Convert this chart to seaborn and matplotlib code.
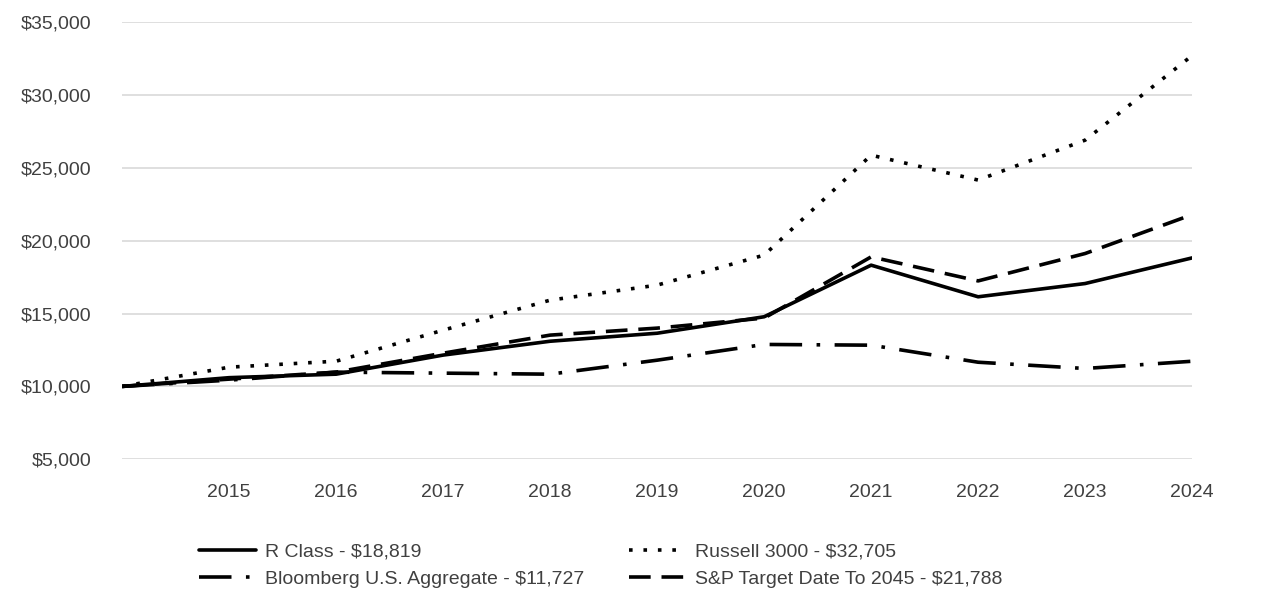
import pandas as pd
import matplotlib
matplotlib.use('Agg')
import matplotlib.pyplot as plt
import seaborn as sns

# values
years = [2014, 2015, 2016, 2017, 2018, 2019, 2020, 2021, 2022, 2023, 2024]
r_class = [10000, 10600, 10840, 12150, 13100, 13650, 14780, 18320, 16150, 17060, 18819]
russell = [10000, 11320, 11730, 13860, 15920, 16950, 19010, 25870, 24160, 26900, 32705]
bloomberg = [10000, 10430, 10980, 10910, 10840, 11800, 12880, 12830, 11660, 11230, 11727]
sp_target = [10000, 10500, 10980, 12280, 13520, 14000, 14690, 18890, 17240, 19120, 21788]

names = ['R Class - $18,819', 'Bloomberg U.S. Aggregate - $11,727',
         'Russell 3000 - $32,705', 'S&P Target Date To 2045 - $21,788']
series = [r_class, bloomberg, russell, sp_target]
dashes = [(None, None), (9, 4, 1, 4), (1, 3), (6, 3)]

df = pd.concat([pd.DataFrame({'year': years, 'value': v, 'series': n})
                for n, v in zip(names, series)])

sns.set_style('white')
plt.rcParams['font.family'] = ['Liberation Sans Narrow', 'Liberation Sans', 'DejaVu Sans']

fig, ax = plt.subplots(figsize=(12.86, 6.14), dpi=100)
fig.subplots_adjust(left=0.095, right=0.927, top=0.964, bottom=0.252)

for n, v, d in zip(names, series, dashes):
    sub = df[df['series'] == n]
    sns.lineplot(data=sub, x='year', y='value', ax=ax, color='black',
                 linewidth=2.6, label=n)
    l = ax.lines[-1]
    if d[0] is not None:
        l.set_dashes(d)
        l.set_dash_capstyle('butt')

ax.set_xlim(2014, 2024)
ax.set_ylim(5000, 35000)
ax.set_xticks(years[1:])
ax.set_yticks(range(5000, 35001, 5000))
ax.yaxis.set_major_formatter(matplotlib.ticker.StrMethodFormatter('${x:,.0f}'))
ax.grid(axis='y', color='#d9d9d9', linewidth=1.2)
ax.set_axisbelow(True)
for s in ax.spines.values():
    s.set_visible(False)
ax.tick_params(axis='both', length=0, labelsize=14, colors='#404040')
ax.tick_params(axis='x', pad=18)
ax.tick_params(axis='y', pad=22)
ax.set_xlabel('')
ax.set_ylabel('')

leg = ax.legend(loc='upper left', bbox_to_anchor=(0.0553, -0.152), ncol=2, frameon=False,
                fontsize=14, handlelength=2.95, columnspacing=2.3, labelspacing=0.5,
                handletextpad=0.45)
for t in leg.get_texts():
    t.set_color('#404040')

plt.savefig('out.png', dpi=100)
